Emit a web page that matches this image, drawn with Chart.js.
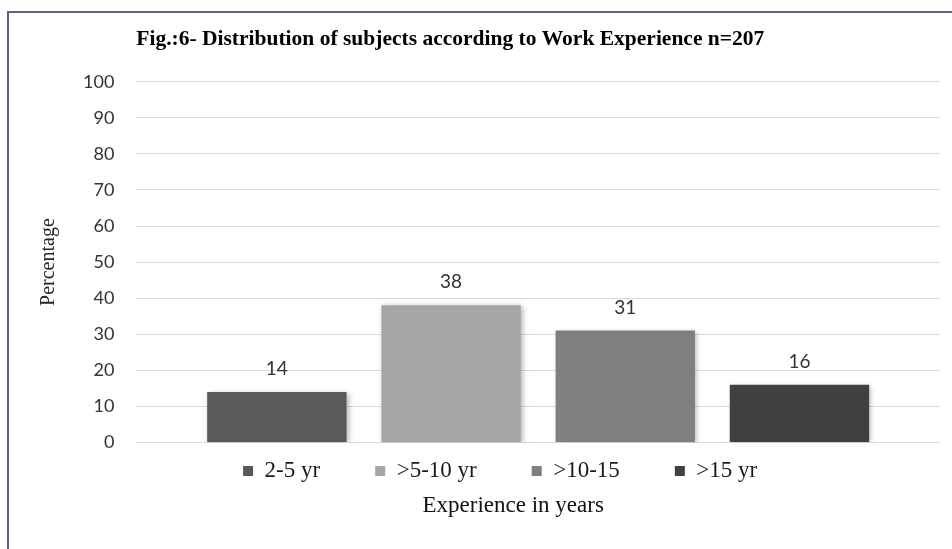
<!DOCTYPE html>
<html>
<head>
<meta charset="utf-8">
<title>Fig.:6- Distribution of subjects according to Work Experience n=207</title>
<script src="https://cdn.jsdelivr.net/npm/chart.js@4.4.1/dist/chart.umd.min.js"></script>
<style>
  html, body { margin: 0; padding: 0; background: #fff; overflow: hidden; }
  #wrap { position: relative; width: 952px; height: 549px; }
  #frame {
    position: absolute; left: 7px; top: 11px; right: 0; bottom: 0;
    border-left: 2px solid #5b6478; border-top: 2px solid #5b6478;
    pointer-events: none;
  }
</style>
</head>
<body>
<div id="wrap">
  <canvas id="experience-chart"></canvas>
  <div id="frame"></div>
</div>
<script>
// Fig. 6 - subjects by work experience (n=207)

const TITLE = 'Fig.:6- Distribution of subjects according to Work Experience n=207';
const Y_TITLE = 'Percentage';
const X_TITLE = 'Experience in years';

const groups = ['2-5 yr', '>5-10 yr', '>10-15', '>15 yr'];
const percentages = [14, 38, 31, 16];
const barColors = ['#595959', '#a6a6a6', '#7f7f7f', '#404040'];
const yRange = [0, 100];
const yStep = 10;

// legend and x title sit a bit left of the plot centre in the original
const LEGEND_DX = -38;
const XTITLE_DX = -25;
const LEGEND_TOP_GAP = 17;

const barShadow = {
    id: 'barShadow',
    beforeDatasetsDraw(chart) {
        const ctx = chart.ctx;
        ctx.save();
        ctx.shadowColor = 'rgba(0, 0, 0, 0.28)';
        ctx.shadowBlur = 5;
        ctx.shadowOffsetX = 2;
        ctx.shadowOffsetY = 1;
    },
    afterDatasetsDraw(chart) {
        chart.ctx.restore();
    }
};

const valueLabels = {
    id: 'valueLabels',
    afterDatasetsDraw(chart) {
        const ctx = chart.ctx;
        ctx.save();
        ctx.font = '19px Lato';
        ctx.fillStyle = '#333333';
        ctx.textAlign = 'center';
        ctx.textBaseline = 'middle';
        chart.data.datasets.forEach((ds, i) => {
            chart.getDatasetMeta(i).data.forEach((bar, j) => {
                ctx.fillText(ds.data[j], bar.x, bar.y - 23);
            });
        });
        ctx.restore();
    }
};

// the legend's own padding sets the gap between items; pull the row back up
// and re-centre legend and x title where the original has them
const bottomBlocks = {
    id: 'bottomBlocks',
    afterLayout(chart) {
        const mid = (chart.chartArea.left + chart.chartArea.right) / 2;
        const recentre = (box, dx) => {
            const half = (box.right - box.left) / 2;
            box.left = mid + dx - half;
            box.right = mid + dx + half;
        };
        const lg = chart.legend;
        if (lg) {
            const pad = lg.options.labels.padding;
            const natTop = lg.top;
            lg.top = natTop - pad + LEGEND_TOP_GAP;
            lg.bottom = natTop + LEGEND_TOP_GAP + lg.options.labels.font.size + 10;
            lg.height = lg.bottom - lg.top;
            recentre(lg, LEGEND_DX);
        }
        const sub = chart.boxes.find(b => b !== lg && b.options && b.options.text === X_TITLE);
        if (sub) recentre(sub, XTITLE_DX);
    }
};

const datasets = groups.map((name, i) => ({
    label: name,
    data: [percentages[i]],
    backgroundColor: barColors[i],
    borderWidth: 0,
    categoryPercentage: 0.867,
    barPercentage: 0.8
}));

new Chart(document.getElementById('experience-chart'), {
    type: 'bar',
    data: { labels: [''], datasets },
    options: {
        responsive: true,
        maintainAspectRatio: false,
        animation: false,
        layout: { padding: { left: 11, right: 12, top: 0, bottom: 0 } },
        plugins: {
            title: {
                display: true,
                text: TITLE,
                align: 'start',
                fullSize: false,
                color: '#000000',
                font: { family: 'Liberation Serif', size: 21.5, weight: 'bold' },
                padding: { top: 27, bottom: 29 }
            },
            subtitle: {
                display: true,
                text: X_TITLE,
                position: 'bottom',
                color: '#111111',
                font: { family: 'Liberation Serif', size: 23 },
                padding: { top: 20, bottom: 29 }
            },
            legend: {
                position: 'bottom',
                maxHeight: 30,
                labels: {
                    boxWidth: 10,
                    boxHeight: 10,
                    padding: 55,
                    color: '#1a1a1a',
                    font: { family: 'Liberation Serif', size: 23 }
                }
            },
            tooltip: { enabled: false }
        },
        scales: {
            x: { display: false },
            y: {
                min: yRange[0],
                max: yRange[1],
                ticks: {
                    stepSize: yStep,
                    padding: 22,
                    color: '#333333',
                    font: { family: 'Lato', size: 18 }
                },
                grid: { color: '#d9d9d9', drawTicks: false },
                border: { display: false },
                title: {
                    display: true,
                    text: Y_TITLE,
                    color: '#262626',
                    font: { family: 'Liberation Serif', size: 20 },
                    padding: { top: 26, bottom: 0 }
                }
            }
        }
    },
    plugins: [barShadow, valueLabels, bottomBlocks]
});
</script>
</body>
</html>
